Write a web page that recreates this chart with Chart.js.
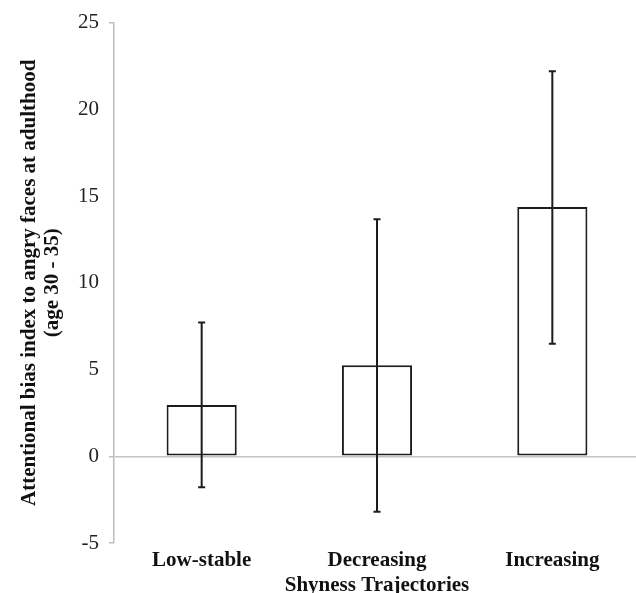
<!DOCTYPE html>
<html>
<head>
<meta charset="utf-8">
<script src="https://cdn.jsdelivr.net/npm/chart.js@4/dist/chart.umd.min.js"></script>
<style>
  html, body { margin: 0; padding: 0; background: #fff; overflow: hidden; }
  #wrap { width: 640px; height: 593px; position: relative; }
</style>
</head>
<body>
<div id="wrap"><canvas id="chart"></canvas></div>
<script>
// shyness trajectory groups
var categories = ["Low-stable", "Decreasing", "Increasing"];
// mean attentional bias index
var means = [2.96, 5.25, 14.37];
// error bar ends
var errLow = [-1.79, -3.2, 6.49];
var errHigh = [7.71, 13.66, 22.19];

var yTicks = [-5, 0, 5, 10, 15, 20, 25];

var serif = "'Liberation Serif', 'Times New Roman', serif";

// draws the error bars on top of the bars
var errorBars = {
  id: 'errorBars',
  afterDatasetsDraw: function(chart) {
    var ctx = chart.ctx;
    var x = chart.scales.x, y = chart.scales.y;
    ctx.save();
    ctx.strokeStyle = '#1c1c1c';
    ctx.lineWidth = 2;
    for (var i = 0; i < categories.length; i++) {
      var px = x.getPixelForValue(i);
      var top = y.getPixelForValue(errHigh[i]);
      var bot = y.getPixelForValue(errLow[i]);
      ctx.beginPath();
      ctx.moveTo(px, top); ctx.lineTo(px, bot);
      ctx.moveTo(px - 3.5, top); ctx.lineTo(px + 3.5, top);
      ctx.moveTo(px - 3.5, bot); ctx.lineTo(px + 3.5, bot);
      ctx.stroke();
    }
    ctx.restore();
  }
};

var chart = new Chart(document.getElementById('chart').getContext('2d'), {
  type: 'bar',
  data: {
    labels: categories,
    datasets: [{
      label: 'Mean',
      data: means,
      backgroundColor: '#ffffff',
      borderColor: '#1c1c1c',
      borderWidth: 2,
      borderSkipped: false,
      categoryPercentage: 0.8,
      barPercentage: 0.5
    }]
  },
  options: {
    responsive: true,
    maintainAspectRatio: false,
    animation: false,
    layout: { padding: { top: 10, left: 0, right: 0, bottom: 0 } },
    plugins: {
      legend: { display: false },
      tooltip: { enabled: false }
    },
    scales: {
      x: {
        grid: { display: false },
        border: { display: false },
        ticks: {
          color: '#111',
          padding: -3,
          font: { family: serif, size: 21, weight: 'bold' }
        },
        title: {
          display: true,
          text: 'Shyness Trajectories',
          color: '#111',
          padding: { top: 0, bottom: -5 },
          font: { family: serif, size: 21, weight: 'bold' }
        },
        afterFit: function(s) { s.height = 50; }
      },
      y: {
        min: -5,
        max: 25,
        afterBuildTicks: function(s) {
          s.ticks = yTicks.map(function(v) { return { value: v }; });
        },
        grid: {
          drawOnChartArea: true,
          color: function(c) { return c.tick && c.tick.value === 0 ? '#c4c4c4' : 'rgba(0,0,0,0)'; },
          tickColor: function(c) {
            var v = c.tick && c.tick.value;
            return (v === 25 || v === -5 || v === 0) ? '#bdbdbd' : 'rgba(0,0,0,0)';
          },
          tickLength: 5,
          lineWidth: 1.5
        },
        border: { display: true, color: '#bdbdbd', width: 1.5 },
        ticks: {
          color: '#222',
          padding: 10,
          font: { family: serif, size: 21 }
        },
        title: {
          display: true,
          text: ['Attentional bias index to angry faces at adulthood', '(age 30 - 35)'],
          color: '#111',
          padding: { top: 18, bottom: 0 },
          font: { family: serif, size: 21, weight: 'bold', lineHeight: 1.1 }
        },
        afterFit: function(s) { s.width = 114; }
      }
    }
  },
  plugins: [errorBars]
});
</script>
</body>
</html>
